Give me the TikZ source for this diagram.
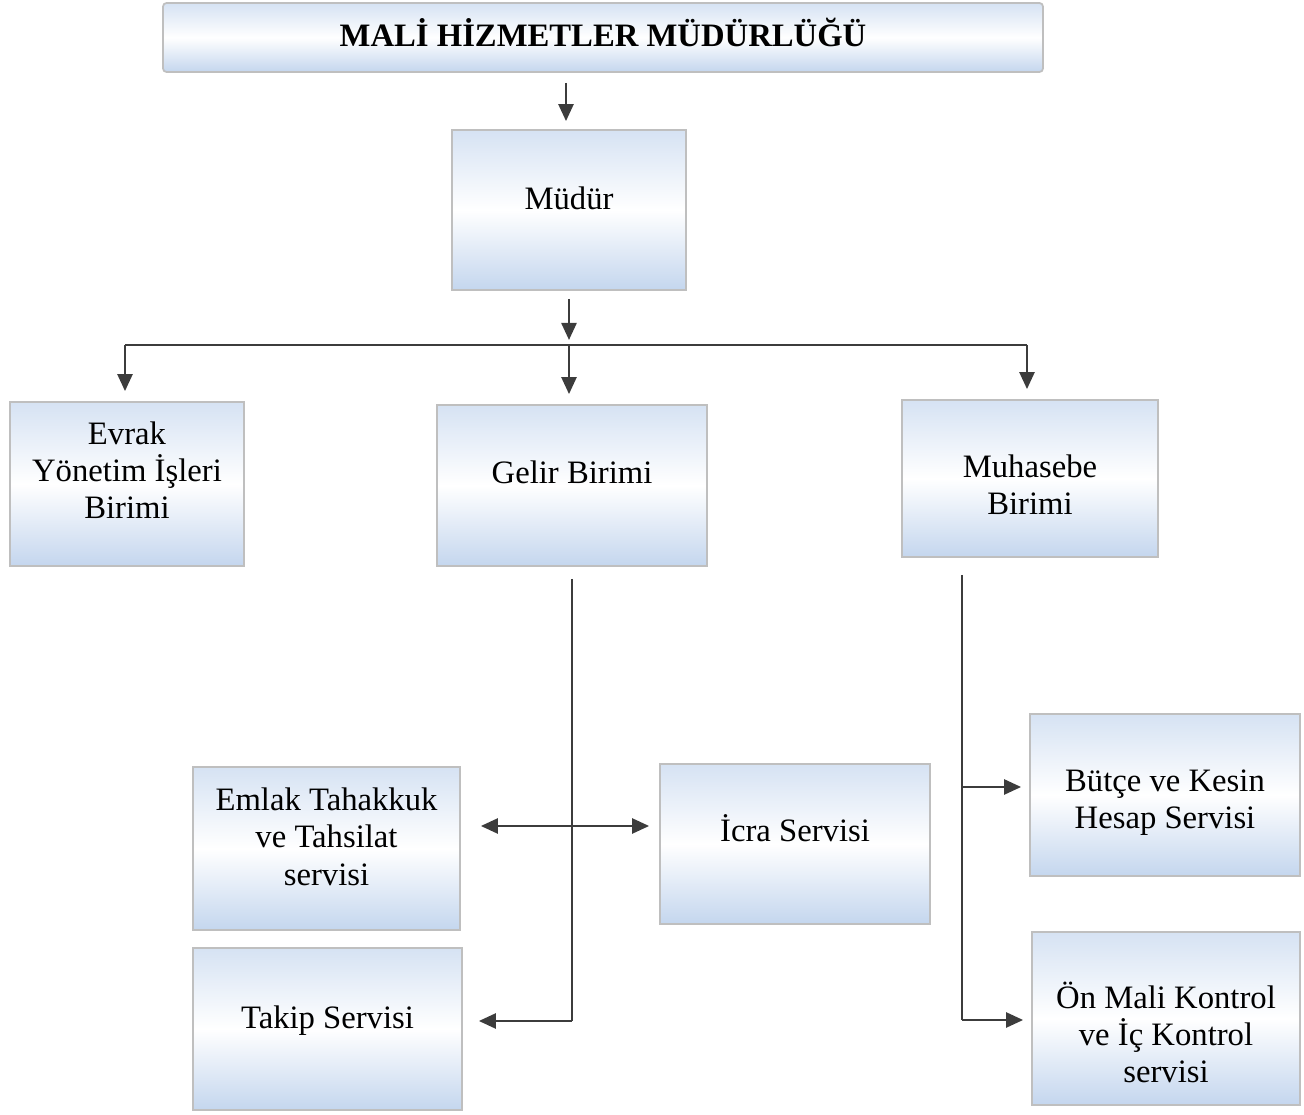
\documentclass[tikz,border=0pt]{standalone}
\usepackage{fontspec}
\setmainfont{Liberation Serif}
\usetikzlibrary{arrows.meta}
\definecolor{boxblue}{RGB}{196,214,238}
\definecolor{linegray}{RGB}{60,60,60}

\begin{document}
\begin{tikzpicture}[
        >={Triangle[length=1.7mm,width=1.5mm]},
        unitbox/.style={draw=gray!50, line width=0.5pt, rectangle, align=center,
                top color=boxblue!70, bottom color=boxblue, middle color=white,
                font=\fontsize{9.3}{10.6}\selectfont},
        link/.style={linegray, line width=0.7pt}
    ]
        \useasboundingbox (0,0) rectangle (13.04,-11.15);

        \node[unitbox, minimum width=8.80cm, minimum height=0.69cm, rounded corners=1pt, text depth=0.1cm,
                font=\fontsize{9.3}{10.6}\selectfont\bfseries] (mudurluk) at (6.03,-0.375) {MALİ HİZMETLER MÜDÜRLÜĞÜ};
        \node[unitbox, minimum width=2.34cm, minimum height=1.60cm, text depth=0.24cm] (mudur) at (5.69,-2.10) {Müdür};

        \node[unitbox, minimum width=2.34cm, minimum height=1.64cm, text depth=0.28cm] (evrak) at (1.27,-4.84) {Evrak\\Yönetim İşleri\\Birimi};
        \node[unitbox, minimum width=2.70cm, minimum height=1.61cm, text depth=0.26cm] (gelir) at (5.72,-4.855) {Gelir Birimi};
        \node[unitbox, minimum width=2.56cm, minimum height=1.57cm, text height=0.73cm] (muhasebe) at (10.30,-4.785) {Muhasebe\\Birimi};

        \node[unitbox, minimum width=2.67cm, minimum height=1.63cm, text depth=0.24cm] (emlak) at (3.265,-8.485) {Emlak Tahakkuk\\ve Tahsilat\\servisi};
        \node[unitbox, minimum width=2.69cm, minimum height=1.62cm, text depth=0.23cm] (takip) at (3.275,-10.29) {Takip Servisi};
        \node[unitbox, minimum width=2.70cm, minimum height=1.60cm, text depth=0.32cm] (icra) at (7.95,-8.44) {İcra Servisi};
        \node[unitbox, minimum width=2.70cm, minimum height=1.62cm, text height=0.74cm] (butce) at (11.65,-7.95) {Bütçe ve Kesin\\Hesap Servisi};
        \node[unitbox, minimum width=2.68cm, minimum height=1.73cm, text height=1.29cm] (onmali) at (11.66,-10.185) {Ön Mali Kontrol\\ve İç Kontrol\\servisi};

        \coordinate (bus) at (5.69,-3.45);
        \coordinate (gbot) at (5.72,-10.21);
        \coordinate (icrarow) at (5.72,-8.26);
        \coordinate (mtop) at (9.62,-5.75);
        \coordinate (mbut) at (9.62,-7.87);
        \coordinate (mbot) at (9.62,-10.20);

        \draw[link, ->, shorten <=0.10cm, shorten >=0.08cm] (mudurluk.south -| 5.66,0) -- (mudur.north -| 5.66,0);
        \draw[link, ->, shorten <=0.08cm, shorten >=0.05cm] (mudur.south) -- (bus);
        \draw[link] (bus -| 1.25,0) -- (bus -| 10.27,0);
        \foreach \unit/\x in {evrak/1.25, gelir/5.69, muhasebe/10.27} {
                \draw[link, ->, shorten >=0.10cm] (bus -| \x,0) -- (\unit.north -| \x,0);
            }

        \draw[link, shorten <=0.12cm] (gelir.south) -- (gbot);
        \draw[link, ->, shorten >=0.16cm] (gbot) -- (gbot -| takip.east);
        \draw[link, <->, shorten <=0.20cm, shorten >=0.10cm] (icrarow -| emlak.east) -- (icrarow -| icra.west);

        \draw[link] (mtop) -- (mbot);
        \draw[link, ->, shorten >=0.08cm] (mbut) -- (mbut -| butce.west);
        \draw[link, ->, shorten >=0.08cm] (mbot) -- (mbot -| onmali.west);

    \end{tikzpicture}
\end{document}
